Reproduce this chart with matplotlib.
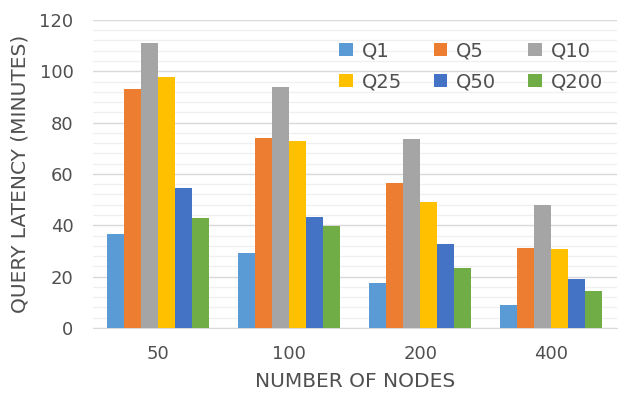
import matplotlib
matplotlib.use("Agg")
import matplotlib.pyplot as plt
import numpy as np
from matplotlib.ticker import MultipleLocator

plt.rcParams['font.family'] = ['DejaVu Sans']

nodes = ["50", "100", "200", "400"]
series_names = ["Q1", "Q5", "Q10", "Q25", "Q50", "Q200"]
q1 = [36.7, 29.3, 17.4, 9.0]
q5 = [93.0, 74.1, 56.4, 31.0]
q10 = [110.9, 93.8, 73.5, 47.9]
q25 = [97.9, 73.0, 49.1, 30.7]
q50 = [54.7, 43.4, 32.7, 19.1]
q200 = [43.0, 39.7, 23.4, 14.5]
colors = ["#5B9BD5", "#ED7D31", "#A5A5A5", "#FFC000", "#4472C4", "#70AD47"]

series = [q1, q5, q10, q25, q50, q200]
text_color = "#505050"
fs = 13
label_fs = 14.5

fig = plt.figure(figsize=(6.28, 3.98), dpi=100)
ax = fig.add_axes([0.148, 0.176, 0.834, 0.774])

x = np.arange(len(nodes))
bar_w = 0.13
handles = []
for i, (name, vals, c) in enumerate(zip(series_names, series, colors)):
    offs = (i - 2.5) * bar_w
    h = ax.bar(x + offs, vals, width=bar_w, color=c, label=name, zorder=3)
    handles.append(h)

ax.set_xlim(-0.5, len(nodes) - 0.5)
ax.set_ylim(0, 120)
ax.yaxis.set_major_locator(MultipleLocator(20))
ax.yaxis.set_minor_locator(MultipleLocator(4))
ax.grid(axis='y', which='major', color='#D9D9D9', linewidth=1.0, zorder=0)
ax.grid(axis='y', which='minor', color='#F0F0F0', linewidth=1.0, zorder=0)
ax.set_xticks(x)
ax.set_xticklabels(nodes)
for s in ['top', 'right', 'left']:
    ax.spines[s].set_visible(False)
ax.spines['bottom'].set_color('#D9D9D9')
ax.tick_params(axis='both', which='both', length=0, labelsize=fs, colors=text_color)
ax.tick_params(axis='x', pad=12)
ax.tick_params(axis='y', pad=14)

ax.set_xlabel("NUMBER OF NODES", fontsize=label_fs, color=text_color, labelpad=7)
ax.set_ylabel("QUERY LATENCY (MINUTES)", fontsize=label_fs, color=text_color, labelpad=7)

# legend filled row by row: three entries per row
ncol = 3
nrow = 2
order = [r * ncol + c for c in range(ncol) for r in range(nrow)]
leg = ax.legend([handles[k] for k in order], [series_names[k] for k in order],
                ncol=ncol, loc='upper left', bbox_to_anchor=(0.47, 0.93),
                frameon=False, fontsize=14, handlelength=0.7, handleheight=0.7,
                handletextpad=0.45, columnspacing=1.65, labelspacing=0.6,
                borderaxespad=0, borderpad=0)
for t in leg.get_texts():
    t.set_color(text_color)

fig.savefig("out.png", dpi=100, facecolor='white')
